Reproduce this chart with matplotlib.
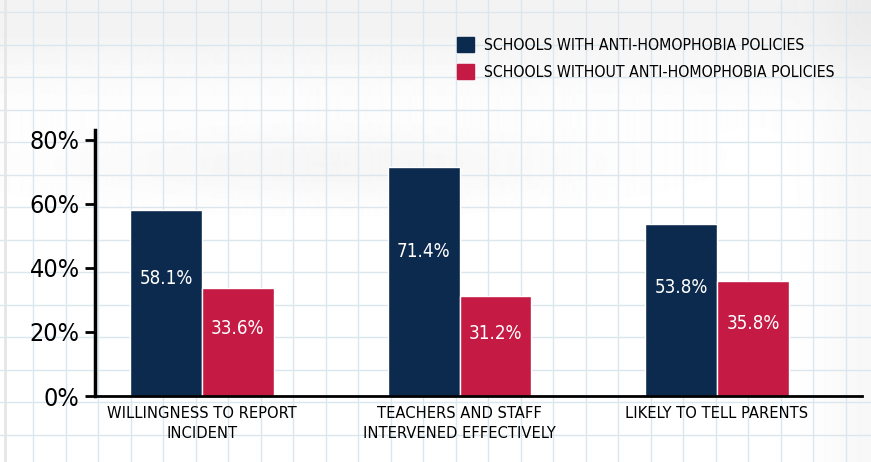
import numpy as np
import matplotlib.pyplot as plt
from matplotlib import font_manager as fm
from matplotlib.patches import Patch

# Data
categories = ["WILLINGNESS TO REPORT\nINCIDENT",
              "TEACHERS AND STAFF\nINTERVENED EFFECTIVELY",
              "LIKELY TO TELL PARENTS"]
with_policy = [58.1, 71.4, 53.8]
without_policy = [33.6, 31.2, 35.8]
series_names = ["SCHOOLS WITH ANTI-HOMOPHOBIA POLICIES",
                "SCHOOLS WITHOUT ANTI-HOMOPHOBIA POLICIES"]
yticks = [0, 20, 40, 60, 80]

navy = "#0c2a4d"
red = "#c51a44"

# look for a narrow face, the original uses a condensed hand lettering
narrow = [f.fname for f in fm.fontManager.ttflist
          if ("Condensed" in f.fname or "Narrow" in f.fname)
          and "Bold" not in f.fname and "Oblique" not in f.fname
          and "Italic" not in f.fname]
narrow.sort(key=lambda p: (0 if "DejaVuSansCondensed" in p else 1, p))
if narrow:
    fp = fm.FontProperties(fname=narrow[0])
    k = 1.0
else:
    fp = fm.FontProperties(family="DejaVu Sans")
    k = 0.82

fig = plt.figure(figsize=(8.71, 4.62), dpi=100)

# Graph paper background
bg = fig.add_axes([0, 0, 1, 1], zorder=-10)
bg.set_xlim(0, 871)
bg.set_ylim(462, 0)
yy, xx = np.mgrid[0:462, 0:871]
shade = 1 - 0.05 * np.exp(-((yy - 10) / 70.0) ** 2) \
          - 0.035 * np.exp(-((yy - 165) / 35.0) ** 2 - ((xx - 330) / 260.0) ** 2) \
          - 0.03 * np.exp(-((xx - 871) / 50.0) ** 2)
bg.imshow(shade, cmap="gray", vmin=0, vmax=1, extent=(0, 871, 462, 0), aspect="auto")
for gx in np.arange(33, 871, 32.5):
    bg.axvline(gx, color="#dbe6ef", lw=1)
for gy in np.arange(12, 462, 32.5):
    bg.axhline(gy, color="#dbe6ef", lw=1)
bg.axvline(5, color="#e6e6e6", lw=2)
bg.axis("off")

ax = fig.add_axes([95 / 871, 66 / 462, 767 / 871, 266 / 462])
ax.patch.set_alpha(0)

x = np.arange(len(categories))
w = 0.279
b1 = ax.bar(x - w / 2, with_policy, w, color=navy, edgecolor="white", linewidth=1)
b2 = ax.bar(x + w / 2, without_policy, w, color=red, edgecolor="white", linewidth=1)

for bars, vals in ((b1, with_policy), (b2, without_policy)):
    for rect, v in zip(bars, vals):
        ax.text(rect.get_x() + rect.get_width() / 2, v * 0.63, f"{v}%",
                ha="center", va="center", color="white",
                fontproperties=fp, fontsize=13.5 * k)

ax.set_xlim(-0.4155, 2.563)
ax.set_ylim(0, 83)
ax.set_yticks(yticks)
ax.set_yticklabels([f"{t}%" for t in yticks], fontproperties=fp, fontsize=18 * k)
ax.set_xticks(x)
ax.set_xticklabels(categories, fontproperties=fp, fontsize=11.8 * k, linespacing=1.45)
ax.tick_params(axis="x", length=0, pad=7)
ax.tick_params(axis="y", length=7, width=2, pad=4)
for s in ("top", "right"):
    ax.spines[s].set_visible(False)
ax.spines["left"].set_linewidth(2.5)
ax.spines["bottom"].set_linewidth(2)

handles = [Patch(color=navy), Patch(color=red)]
lp = fp.copy()
lp.set_size(11.3 * k)
fig.legend(handles, series_names, loc="upper left",
           bbox_to_anchor=(443 / 871, 1 - 23 / 462), frameon=False,
           prop=lp, handlelength=1.1, handleheight=1.1,
           handletextpad=0.6, labelspacing=0.7)

fig.savefig("out.png", dpi=100)
